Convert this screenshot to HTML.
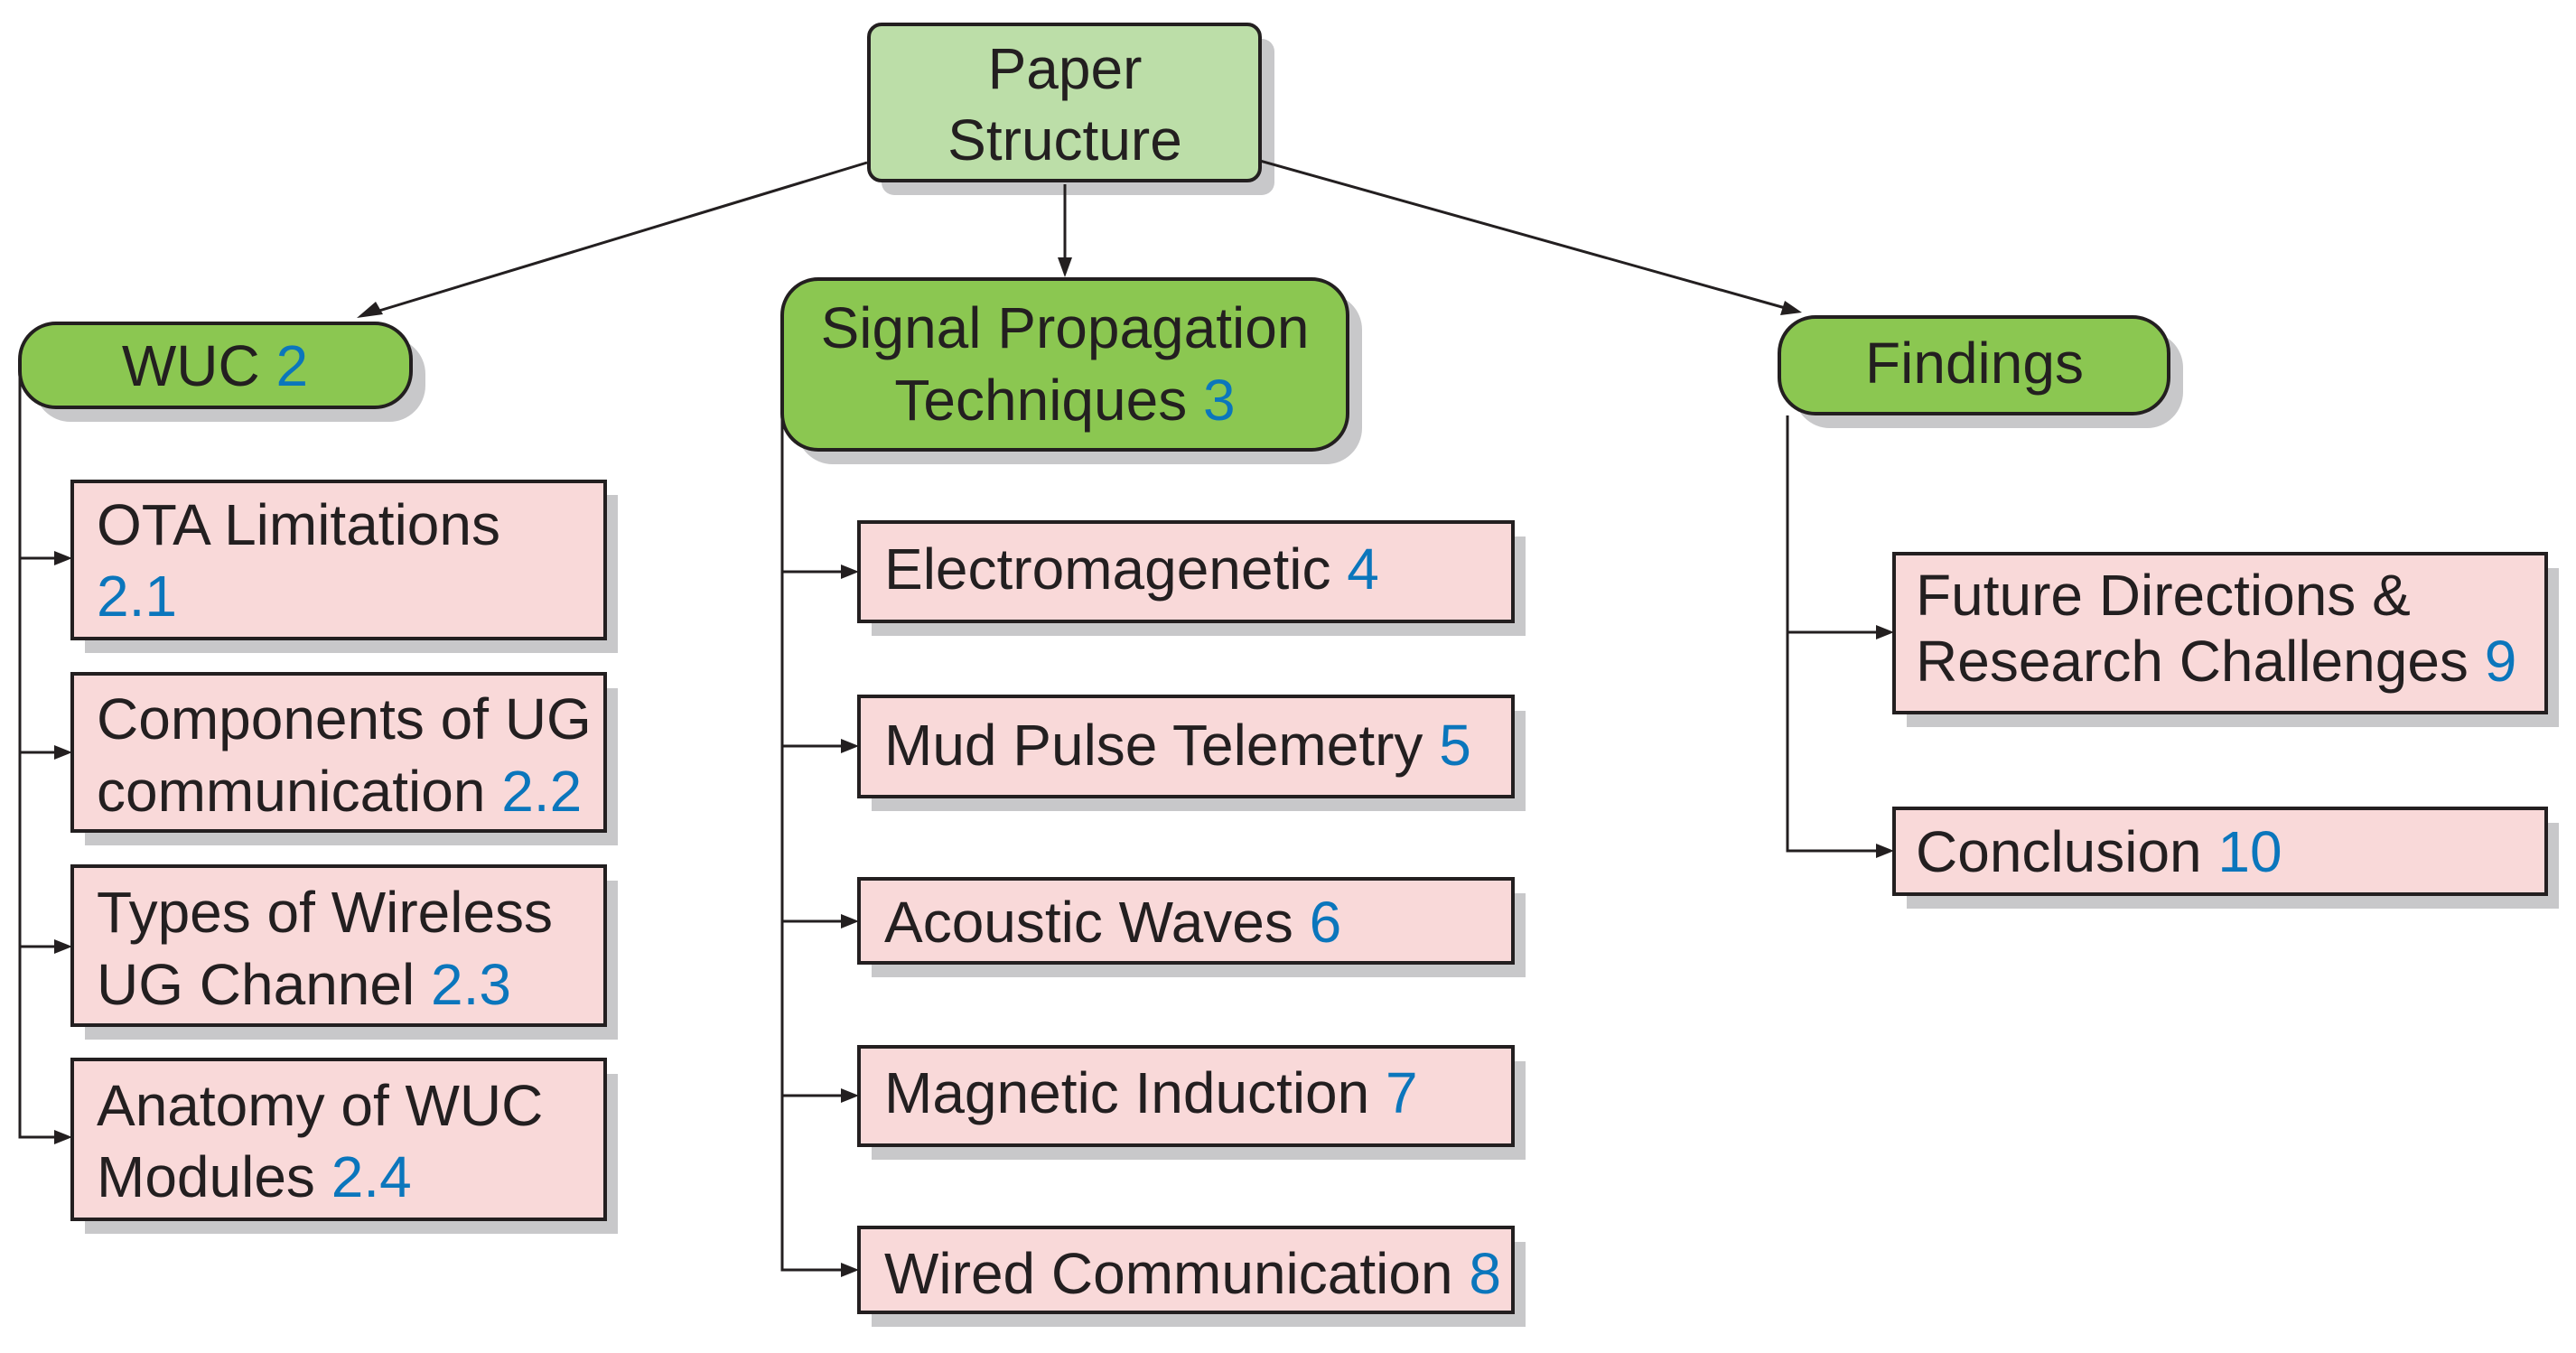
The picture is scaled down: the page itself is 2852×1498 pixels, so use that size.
<!DOCTYPE html>
<html><head><meta charset="utf-8"><style>
html,body{margin:0;padding:0;background:#fff;}
svg{display:block;}
text{font-family:"Liberation Sans",sans-serif;font-size:64px;fill:#231f20;}
.b{fill:#0b76bc;}
</style></head><body>
<svg width="2852" height="1498" viewBox="0 0 2852 1498" xmlns="http://www.w3.org/2000/svg">
<defs>
<marker id="ar" markerWidth="10" markerHeight="10" refX="9" refY="5" orient="auto" markerUnits="userSpaceOnUse" viewBox="0 0 10 10">
</marker>
</defs>
<g fill="#c8c8ca">
<rect x="976" y="43" width="435" height="173" rx="14"/>
<rect x="38" y="374" width="433" height="93" rx="40"/>
<rect x="882" y="325" width="626" height="189" rx="40"/>
<rect x="1986" y="367" width="431" height="107" rx="40"/>
<rect x="94" y="548" width="590" height="175"/>
<rect x="94" y="762" width="590" height="174"/>
<rect x="94" y="975" width="590" height="176"/>
<rect x="94" y="1189" width="590" height="177"/>
<rect x="965" y="594" width="724" height="110"/>
<rect x="965" y="787" width="724" height="111"/>
<rect x="965" y="989" width="724" height="93"/>
<rect x="965" y="1175" width="724" height="109"/>
<rect x="965" y="1375" width="724" height="94"/>
<rect x="2111" y="629" width="722" height="176"/>
<rect x="2111" y="911" width="722" height="95"/>
</g>
<g stroke="#231f20" stroke-width="4">
<rect x="962" y="27" width="433" height="173" rx="14" fill="#bcdea8"/>
<rect x="22" y="358" width="433" height="93" rx="40" fill="#8bc751"/>
<rect x="866" y="309" width="626" height="189" rx="40" fill="#8bc751"/>
<rect x="1970" y="351" width="431" height="107" rx="40" fill="#8bc751"/>
<g fill="#f9d9d9">
<rect x="80" y="533" width="590" height="174"/>
<rect x="80" y="746" width="590" height="174"/>
<rect x="80" y="959" width="590" height="176"/>
<rect x="80" y="1173" width="590" height="177"/>
<rect x="951" y="578" width="724" height="110"/>
<rect x="951" y="771" width="724" height="111"/>
<rect x="951" y="973" width="724" height="93"/>
<rect x="951" y="1159" width="724" height="109"/>
<rect x="951" y="1359" width="724" height="94"/>
<rect x="2097" y="613" width="722" height="176"/>
<rect x="2097" y="895" width="722" height="95"/>
</g>
</g>
<g stroke="#231f20" stroke-width="3" fill="none">
<line x1="960" y1="180" x2="410" y2="347"/>
<line x1="1179" y1="204" x2="1179" y2="292"/>
<line x1="1395" y1="178" x2="1980" y2="342"/>
<polyline points="22,400 22,1259 62,1259"/>
<line x1="22" y1="618" x2="62" y2="618"/>
<line x1="22" y1="833" x2="62" y2="833"/>
<line x1="22" y1="1048" x2="62" y2="1048"/>
<polyline points="866,455 866,1406 933,1406"/>
<line x1="866" y1="633" x2="933" y2="633"/>
<line x1="866" y1="826" x2="933" y2="826"/>
<line x1="866" y1="1020" x2="933" y2="1020"/>
<line x1="866" y1="1213" x2="933" y2="1213"/>
<polyline points="1979,460 1979,942 2079,942"/>
<line x1="1979" y1="700" x2="2079" y2="700"/>
</g>
<g fill="#231f20">
<polygon points="395,352 416,334 424,348"/>
<polygon points="1179,307 1171,285 1187,285"/>
<polygon points="1995,346 1971,349 1976,333"/>
<polygon points="80,618 60,610 60,626"/>
<polygon points="80,833 60,825 60,841"/>
<polygon points="80,1048 60,1040 60,1056"/>
<polygon points="80,1259 60,1251 60,1267"/>
<polygon points="951,633 931,625 931,641"/>
<polygon points="951,826 931,818 931,834"/>
<polygon points="951,1020 931,1012 931,1028"/>
<polygon points="951,1213 931,1205 931,1221"/>
<polygon points="951,1406 931,1398 931,1414"/>
<polygon points="2097,700 2077,692 2077,708"/>
<polygon points="2097,942 2077,934 2077,950"/>
</g>
<g>
<text x="1179" y="98" text-anchor="middle">Paper</text>
<text x="1179" y="177" text-anchor="middle">Structure</text>
<text x="238" y="427" text-anchor="middle">WUC <tspan class="b">2</tspan></text>
<text x="1179" y="385" text-anchor="middle">Signal Propagation</text>
<text x="1179" y="465" text-anchor="middle">Techniques <tspan class="b">3</tspan></text>
<text x="2186" y="424" text-anchor="middle">Findings</text>
<text x="107" y="603">OTA Limitations</text>
<text x="107" y="682" class="b">2.1</text>
<text x="107" y="818">Components of UG</text>
<text x="107" y="898">communication <tspan class="b">2.2</tspan></text>
<text x="107" y="1032">Types of Wireless</text>
<text x="107" y="1112">UG Channel <tspan class="b">2.3</tspan></text>
<text x="107" y="1246">Anatomy of WUC</text>
<text x="107" y="1325">Modules <tspan class="b">2.4</tspan></text>
<text x="979" y="652">Electromagenetic <tspan class="b">4</tspan></text>
<text x="979" y="847">Mud Pulse Telemetry <tspan class="b">5</tspan></text>
<text x="979" y="1043">Acoustic Waves <tspan class="b">6</tspan></text>
<text x="979" y="1232">Magnetic Induction <tspan class="b">7</tspan></text>
<text x="979" y="1432">Wired Communication <tspan class="b">8</tspan></text>
<text x="2121" y="681">Future Directions &amp;</text>
<text x="2121" y="754">Research Challenges <tspan class="b">9</tspan></text>
<text x="2121" y="965">Conclusion <tspan class="b">10</tspan></text>
</g>
</svg>
</body></html>
